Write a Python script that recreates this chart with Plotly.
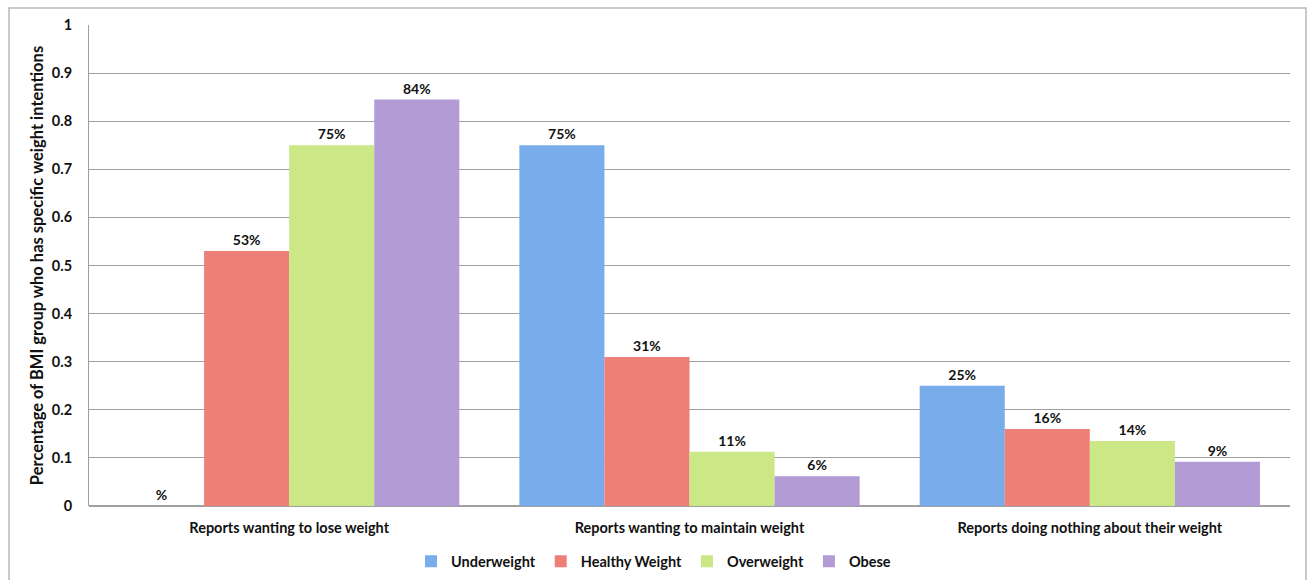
import plotly.graph_objects as go

categories = ["Reports wanting to lose weight", "Reports wanting to maintain weight",
              "Reports doing nothing about their weight"]
series_names = ["Underweight", "Healthy Weight", "Overweight", "Obese"]
underweight = [0.0, 0.75, 0.25]
healthy = [0.53, 0.31, 0.16]
overweight = [0.75, 0.113, 0.135]
obese = [0.845, 0.062, 0.092]
underweight_labels = ["%", "75%", "25%"]
healthy_labels = ["53%", "31%", "16%"]
overweight_labels = ["75%", "11%", "14%"]
obese_labels = ["84%", "6%", "9%"]
y_ticks = [0, 0.1, 0.2, 0.3, 0.4, 0.5, 0.6, 0.7, 0.8, 0.9, 1]
y_ticktext = ["0", "0.1", "0.2", "0.3", "0.4", "0.5", "0.6", "0.7", "0.8", "0.9", "1"]

values = [underweight, healthy, overweight, obese]
labels = [underweight_labels, healthy_labels, overweight_labels, obese_labels]
colors = ["#78aceb", "#ee7f78", "#cbe786", "#b39bd6"]

FONT = "Lato"
fig = go.Figure()
for name, vals, labs, col in zip(series_names, values, labels, colors):
    fig.add_trace(go.Bar(
        x=categories, y=vals, name=name,
        marker=dict(color=col, line=dict(width=0)),
        text=labs, textposition="outside",
        constraintext="none",
        textfont=dict(family=FONT, size=14, color="#111", weight="bold"),
        cliponaxis=False,
    ))

fig.update_layout(
    width=1307, height=580,
    margin=dict(l=89, r=17, t=25, b=74, autoexpand=False),
    paper_bgcolor="white", plot_bgcolor="white",
    barmode="group", bargap=0.15, bargroupgap=0,
    font=dict(family=FONT, size=14, color="#111"),
    showlegend=True,
    legend=dict(orientation="h", x=0.47, xanchor="center",
                y=-0.115, yanchor="middle",
                font=dict(family=FONT, size=14.5, color="#111", weight="bold"),
                itemwidth=30, traceorder="normal"),
    xaxis=dict(showline=False, ticks="", showgrid=False, tickangle=0,
               ticklabelstandoff=11,
               tickfont=dict(family=FONT, size=14.5, color="#111", weight="bold")),
    yaxis=dict(range=[0, 1], tickvals=y_ticks, ticktext=y_ticktext,
               showgrid=True, gridcolor="#a0a0a0", gridwidth=1,
               showline=True, linecolor="#a0a0a0", linewidth=1,
               ticks="", ticklabelstandoff=13, zeroline=True, zerolinecolor="#a0a0a0",
               tickfont=dict(family=FONT, size=14.5, color="#111", weight="bold"),
               title=dict(text="Percentage of BMI group who has specific weight intentions",
                          font=dict(family=FONT, size=16.5, color="#111", weight="bold"),
                          standoff=4)),
    shapes=[dict(type="rect", xref="paper", yref="paper",
                 x0=-0.0666, x1=1.0133, y0=-0.25, y1=1.0353,
                 line=dict(color="#b8b8b8", width=1.5), fillcolor="rgba(0,0,0,0)",
                 layer="below")],
)

fig.write_html("out.html")
